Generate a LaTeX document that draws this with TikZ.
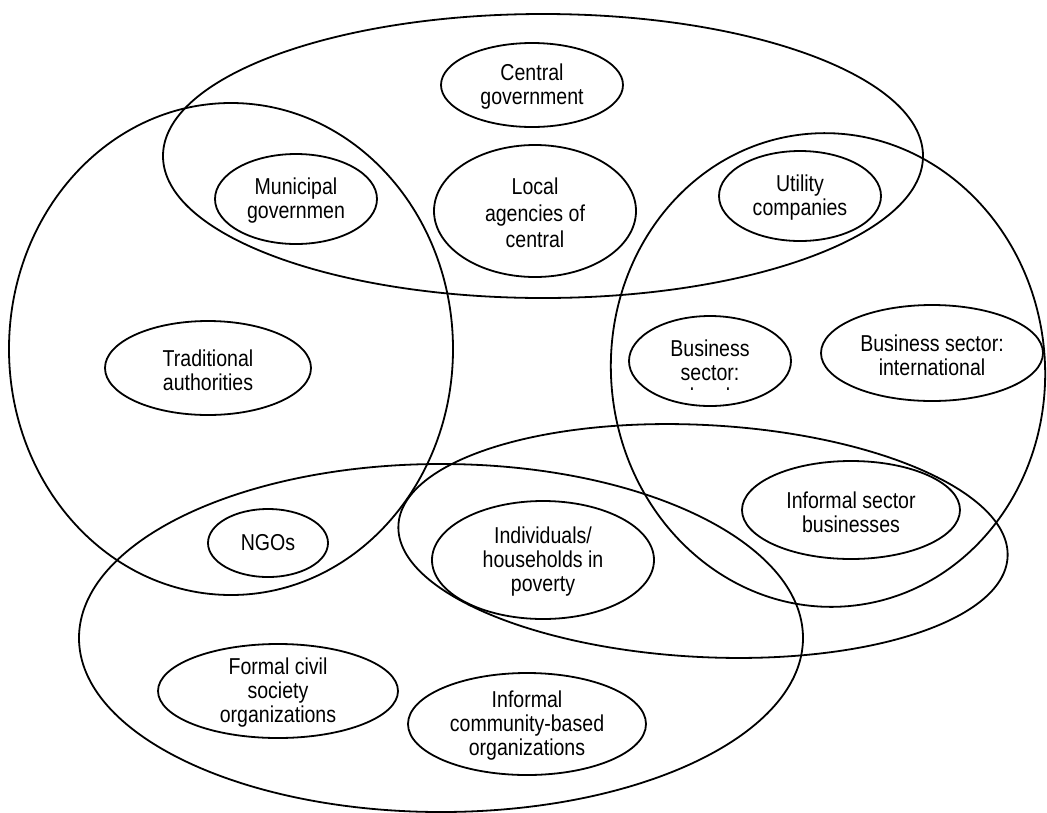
\documentclass[tikz,border=0pt]{standalone}
\usepackage{fontspec}
\setmainfont{Liberation Sans}[FakeStretch=0.85]
\usetikzlibrary{shapes.geometric}
\begin{document}
\begin{tikzpicture}[x=1pt,y=-1pt,
  group/.style={draw, ellipse, line width=1.8pt, inner sep=0pt},
  actor/.style={draw, ellipse, line width=1.8pt, inner sep=0pt},
  lbl/.style={align=center, inner sep=0pt, font=\fontsize{23}{24}\selectfont},
]
\useasboundingbox (0,0) rectangle (1047,812);
% large groups
\node[group, minimum width=760pt, minimum height=284pt] (gov) at (543,156) {};
\node[group, minimum width=444pt, minimum height=492pt] (trad) at (231,349) {};
\node[group, minimum width=434pt, minimum height=474pt, rotate=5] (bus) at (828,370) {};
\node[group, minimum width=724pt, minimum height=348pt] (civ) at (441,638) {};
\node[group, minimum width=610pt, minimum height=232pt, rotate=-3] (pov) at (703,541) {};
% actors
\node[actor, minimum width=182pt, minimum height=84pt] (cg) at (532,85) {};
\node[lbl] (cgt) at ([yshift=-2pt]cg.center) {Central\\government};
\node[actor, minimum width=162pt, minimum height=90pt] (mg) at (296,199) {};
\node[lbl] (mgt) at ([yshift=-2pt]mg.center) {Municipal\\governmen};
\node[actor, minimum width=202pt, minimum height=132pt] (la) at (535,211) {};
\node[lbl, font=\fontsize{23}{26.5}\selectfont] (lat) at ([yshift=-2pt]la.center) {Local\\agencies of\\central};
\node[actor, minimum width=162pt, minimum height=90pt] (uc) at (800,196) {};
\node[lbl] (uct) at ([yshift=-2pt]uc.center) {Utility\\companies};
\node[actor, minimum width=206pt, minimum height=94pt] (ta) at (208,368) {};
\node[lbl] (tat) at ([yshift=-2pt]ta.center) {Traditional\\authorities};
\node[actor, minimum width=162pt, minimum height=90pt] (bsl) at (710,361) {};
\begin{scope}
  \clip (600,300) rectangle (820,389.5);
  \node[lbl, anchor=base] (bslt) at (710,404) {Business\\sector:\\local};
\end{scope}
\node[actor, minimum width=222pt, minimum height=96pt] (bsi) at (932,353) {};
\node[lbl] (bsit) at ([yshift=-2pt]bsi.center) {Business sector:\\international};
\node[actor, minimum width=218pt, minimum height=98pt] (isb) at (851,510) {};
\node[lbl] (isbt) at ([yshift=-2pt]isb.center) {Informal sector\\businesses};
\node[actor, minimum width=120pt, minimum height=68pt] (ngo) at (268,543) {};
\node[lbl] (ngot) at (ngo) {NGOs};
\node[actor, minimum width=222pt, minimum height=118pt] (ihp) at (543,560) {};
\node[lbl] (ihpt) at ([yshift=-2pt]ihp.center) {Individuals/\\households in\\poverty};
\node[actor, minimum width=240pt, minimum height=94pt] (fcs) at (278,691) {};
\node[lbl] (fcst) at ([yshift=-2pt]fcs.center) {Formal civil\\society\\organizations};
\node[actor, minimum width=238pt, minimum height=102pt] (icb) at (527,724) {};
\node[lbl] (icbt) at ([yshift=-2pt]icb.center) {Informal\\community-based\\organizations};
\end{tikzpicture}
\end{document}
